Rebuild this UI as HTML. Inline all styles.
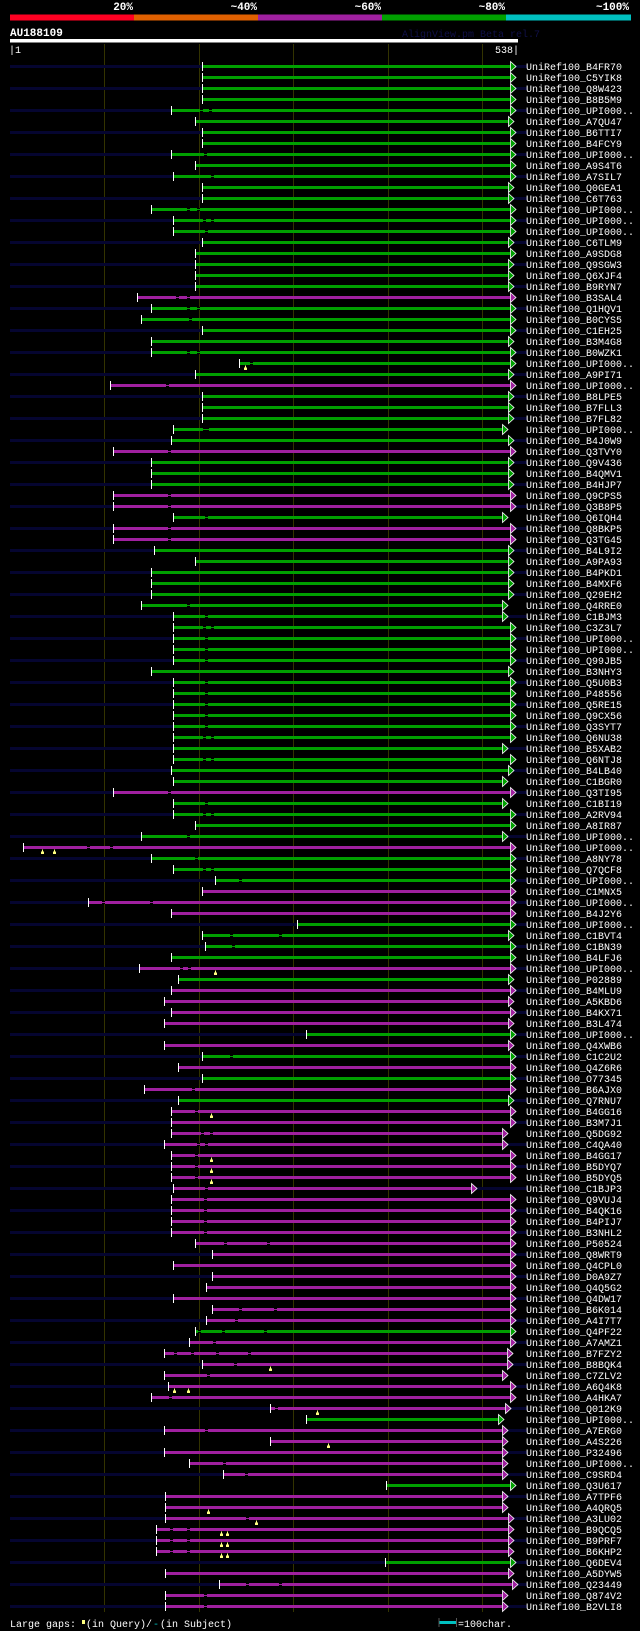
<!DOCTYPE html>
<html><head><meta charset="utf-8"><style>
html,body{margin:0;padding:0;background:#000;}
svg{display:block;}
text{font-family:"Liberation Mono",monospace;}
</style></head><body>
<svg id="chart" width="640" height="1631" viewBox="0 0 640 1631" xmlns="http://www.w3.org/2000/svg">
<rect width="640" height="1631" fill="#000"/>
<g>
<rect x="10" y="14.5" width="124" height="6" fill="#ff0022"/>
<rect x="134" y="14.5" width="124" height="6" fill="#e06000"/>
<rect x="258" y="14.5" width="124" height="6" fill="#a020a0"/>
<rect x="382" y="14.5" width="124" height="6" fill="#00a000"/>
<rect x="506" y="14.5" width="125" height="6" fill="#00c0c0"/>
<g font-size="11" font-weight="bold" fill="#fff" text-anchor="end">
<text x="133" y="10">20%</text>
<text x="257" y="10">~40%</text>
<text x="381" y="10">~60%</text>
<text x="505" y="10">~80%</text>
<text x="629" y="10">~100%</text>
</g>
</g>
<text x="10" y="36" font-size="11" font-weight="bold" fill="#fff">AU188109</text>
<text x="402" y="37" font-size="10" fill="#101048">AlignView.pm Beta rel.7</text>
<rect x="10" y="39" width="508" height="3.5" fill="#fff"/>
<text x="9" y="53" font-size="10" fill="#fff">|1</text>
<text x="519" y="53" font-size="10" fill="#fff" text-anchor="end">538|</text>
<g id="grid"></g>
<g id="rows"></g>
<g>
<text x="10" y="1627" font-size="10" fill="#fff">Large gaps:</text>
<rect x="82" y="1620" width="3" height="4" fill="#ffff80"/>
<text x="86" y="1627" font-size="10" fill="#fff">(in Query)/</text>
<text x="153" y="1627" font-size="10" fill="#00c0c0">-</text>
<text x="160" y="1627" font-size="10" fill="#fff">(in Subject)</text>
<rect x="439" y="1621" width="17" height="3" fill="#00c0c0"/>
<rect x="438.5" y="1618" width="1" height="9" fill="#555"/>
<rect x="456" y="1618" width="1" height="9" fill="#555"/>
<text x="458" y="1627" font-size="10" fill="#fff">=100char.</text>
</g>
</svg>
<script>
const queryLength = 538;
const gridTicks = [100, 200, 300, 400, 500];
const names = ["B4FR70","C5YIK8","Q8W423","B8B5M9","UPI000..","A7QU47","B6TTI7","B4FCY9","UPI000..","A9S4T6","A7SIL7","Q0GEA1","C6T763","UPI000..","UPI000..","UPI000..","C6TLM9","A9SDG8","Q9SGW3","Q6XJF4","B9RYN7","B3SAL4","Q1HQV1","B0CYS5","C1EH25","B3M4G8","B0WZK1","UPI000..","A9PI71","UPI000..","B8LPE5","B7FLL3","B7FL82","UPI000..","B4J0W9","Q3TVY0","Q9V436","B4QMV1","B4HJP7","Q9CPS5","Q3B8P5","Q6IQH4","Q8BKP5","Q3TG45","B4L9I2","A9PA93","B4PKD1","B4MXF6","Q29EH2","Q4RRE0","C1BJM3","C3Z3L7","UPI000..","UPI000..","Q99JB5","B3NHY3","Q5U0B3","P48556","Q5RE15","Q9CX56","Q3SYT7","Q6NU38","B5XAB2","Q6NTJ8","B4LB40","C1BGR0","Q3TI95","C1BI19","A2RV94","A8IR87","UPI000..","UPI000..","A8NY78","Q7QCF8","UPI000..","C1MNX5","UPI000..","B4J2Y6","UPI000..","C1BVT4","C1BN39","B4LFJ6","UPI000..","P02889","B4MLU9","A5KBD6","B4KX71","B3L474","UPI000..","Q4XWB6","C1C2U2","Q4Z6R6","O77345","B6AJX0","Q7RNU7","B4GG16","B3M7J1","Q5DG92","C4QA40","B4GG17","B5DYQ7","B5DYQ5","C1BJP3","Q9VUJ4","B4QK16","B4PIJ7","B3NHL2","P50524","Q8WRT9","Q4CPL0","D0A9Z7","Q4Q5G2","Q4DW17","B6K014","A4I7T7","Q4PF22","A7AMZ1","B7FZY2","B8BQK4","C7ZLV2","A6Q4K8","A4HKA7","Q012K9","UPI000..","A7ERG0","A4S226","P32496","UPI000..","C9SRD4","Q3U617","A7TPF6","A4QRQ5","A3LU02","B9QCQ5","B9PRF7","B6KHP2","Q6DEV4","A5DYW5","Q23449","Q874V2","B2VLI8"];
const starts = [203,203,203,203,170,196,203,203,170,196,173,203,203,149,173,173,203,196,196,196,196,134,149,139,203,149,149,242,196,106,203,203,203,173,170,109,149,149,149,109,109,173,109,109,152,196,149,149,149,139,173,173,173,173,173,149,173,173,173,173,173,173,173,173,170,173,109,173,173,196,139,14,149,173,217,203,83,170,304,203,206,170,137,178,170,163,170,163,313,163,203,178,203,142,178,170,170,170,163,170,170,170,173,170,170,170,170,196,214,173,214,208,173,214,208,196,190,163,203,163,167,149,275,313,163,275,163,190,226,398,164,164,164,155,155,155,397,164,221,164,164];
const ends = [530,530,530,530,530,527,530,530,530,530,530,527,527,530,530,530,527,530,527,527,527,530,530,530,530,527,530,530,527,530,527,527,527,521,527,530,527,527,527,530,530,521,530,530,527,527,527,527,527,521,521,530,530,530,530,527,530,530,530,530,530,530,521,530,527,521,530,521,530,530,521,530,530,530,530,530,530,530,530,527,530,530,530,527,530,527,530,527,530,527,530,530,530,530,527,530,530,521,521,530,530,530,488,530,530,530,530,530,530,530,530,530,530,530,530,530,530,526,526,521,530,530,524,517,521,521,521,521,521,530,521,521,527,527,527,527,530,527,532,521,521];
const kinds = "gggggggggggggggggggggmgggggggmgggggmgggmmgmmggggggggggggggggggggggmggggmgggmmmggggmgmmmmgmgmgmgmmmmmmmmmmmmmmmmmmmmgmmmmmmmgmmmmmgmmmmmmgmmmm";
const gapRows = [5,5,9,11,14,14,15,15,16,22,22,23,23,24,27,27,28,30,34,34,36,40,41,43,44,42,50,51,52,52,53,54,55,57,58,59,60,61,62,62,64,64,67,68,69,69,71,72,72,73,74,74,75,77,77,80,80,81,83,83,91,94,96,98,98,99,99,100,101,102,103,104,105,106,107,108,108,114,114,115,116,116,116,117,118,118,118,118,119,120,122,123,125,128,129,133,134,134,135,135,136,136,139,139,140,141];
const gapPos = [202,212,207,214,189,199,205,214,208,177,189,189,199,191,189,199,255,166,205,209,168,168,168,168,168,208,188,208,205,214,208,208,208,208,208,208,208,208,205,214,205,214,168,208,205,214,188,83,107,197,205,214,244,99,149,234,286,236,181,190,234,194,197,203,213,199,208,197,197,197,208,207,207,207,207,228,273,244,281,239,200,226,270,216,175,193,219,253,238,210,169,282,208,227,250,251,170,189,170,189,170,189,251,286,207,207];
const qgapRows = [28,72,72,83,96,100,101,102,119,121,121,123,126,132,133,134,134,135,135,136,136];
const qgapPos = [249,34,47,217,213,213,213,213,275,174,188,325,337,210,260,223,230,223,230,223,230];
</script>
<script>
(function(){
  const NS = "http://www.w3.org/2000/svg";
  const X0 = 10, X1 = 518;
  const xScale = r => X0 + r * (X1 - X0) / queryLength;
  const rowY = i => Math.round(65.7 + i * 11) + 0.5;
  const colorOf = k => k === "m" ? "#a020a0" : "#00a000";
  const grid = document.getElementById("grid");
  const rows = document.getElementById("rows");
  function mk(tag, attrs, parent){
    const el = document.createElementNS(NS, tag);
    for (const k in attrs) el.setAttribute(k, attrs[k]);
    parent.appendChild(el);
    return el;
  }
  gridTicks.forEach(t => {
    const l = mk("rect", {x: Math.round(xScale(t)), y: 44, width: 1, height: 1568, fill: "#333300"}, grid);
    
    
  });
  names.forEach((nm, i) => {
    const y = rowY(i);
    const g = mk("g", {}, rows);
    
    
    if (i % 2 === 0) {
      const bg = mk("rect", {x: X0, y: y - 1.5, width: 517, height: 3, fill: "#050530"}, g);
      
      
    }
    const col = colorOf(kinds[i]);
    const xs = Math.round(xScale(starts[i])), xe = Math.round(xScale(ends[i]));
    const bar = mk("rect", {x: xs, y: y - 1.5, width: xe - xs, height: 3, fill: col}, g);
    
    
    const tick = mk("rect", {x: xs, y: y - 4.5, width: 1, height: 9, fill: "#fff"}, g);
    
    
    const ar = mk("polygon", {points: `${xe+0.5},${y-5} ${xe+6},${y} ${xe+0.5},${y+5}`, fill: col, stroke: "#fff", "stroke-width": 0.8}, g);
    
    
    const lab = mk("text", {x: 526, y: y + 3.5, "font-size": 10, fill: "#fff"}, g);
    lab.textContent = "UniRef100_" + nm;
    
    
  });
  gapRows.forEach((r, j) => {
    const y = rowY(r - 1);
    const x = Math.round(xScale(gapPos[j]));
    const gp = mk("rect", {x: x - 1, y: y - 1.5, width: 3, height: 3, fill: "#000"}, rows);
    
    
    const ln = mk("rect", {x: x - 1, y: y - 0.5, width: 3, height: 1, fill: colorOf(kinds[r - 1])}, rows);
    
    
  });
  qgapRows.forEach((r, j) => {
    const y = rowY(r - 1);
    const x = Math.round(xScale(qgapPos[j]));
    const st = mk("rect", {x: x, y: y + 2, width: 1, height: 2, fill: "#ffff80"}, rows);
    
    
    const m = mk("rect", {x: x - 1, y: y + 4, width: 3, height: 2.5, fill: "#ffff80"}, rows);
    
    
  });
})();
</script>
</body></html>
